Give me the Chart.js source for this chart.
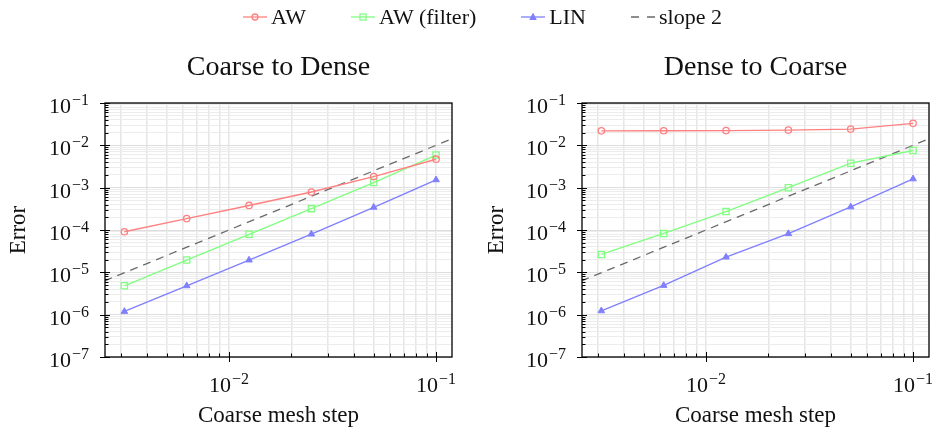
<!DOCTYPE html>
<html>
<head>
<meta charset="utf-8">
<script src="https://cdn.jsdelivr.net/npm/chart.js@4.4.1/dist/chart.umd.min.js"></script>
<style>
  body { margin: 0; background: #fff; }
  #wrap { position: relative; width: 936px; height: 432px; overflow: hidden; }
  canvas { position: absolute; top: 0; }
  #c1 { left: 0; }
  #c2 { left: 468px; }
  #legend { position: absolute; top: 4px; left: 243px; height: 26px; display: flex; align-items: center;
            font-family: "Liberation Serif", serif; font-size: 22px; color: #111; z-index: 2; }
  #legend .item { display: flex; align-items: center; margin-right: 45px; }
  #legend svg { margin-right: 4px; }
</style>
</head>
<body>
<div id="wrap">
  <div id="legend"></div>
  <canvas id="c1" width="468" height="432"></canvas>
  <canvas id="c2" width="468" height="432"></canvas>
</div>
<script>
// Datos
const steps = [0.003125, 0.00625, 0.0125, 0.025, 0.05, 0.1];
const seriesNames = ['AW', 'AW (filter)', 'LIN', 'slope 2'];

// Coarse to Dense
const c2dAW = [9.1e-5, 1.86e-4, 3.8e-4, 7.9e-4, 1.83e-3, 4.7e-3];
const c2dFilter = [4.8e-6, 1.95e-5, 7.9e-5, 3.2e-4, 1.32e-3, 5.9e-3];
const c2dLin = [1.19e-6, 4.8e-6, 1.95e-5, 8.0e-5, 3.44e-4, 1.53e-3];

// Dense to Coarse
const d2cAW = [0.0220, 0.0221, 0.0223, 0.0229, 0.0242, 0.0331];
const d2cFilter = [2.65e-5, 8.3e-5, 2.72e-4, 1.0e-3, 3.79e-3, 7.57e-3];
const d2cLin = [1.23e-6, 4.9e-6, 2.29e-5, 8.2e-5, 3.5e-4, 1.61e-3];

// Recta de referencia (pendiente 2)
const slopeX = [0.0025, 0.12];
const slopeY = [6.25e-6, 1.44e-2];

// Marcas de los ejes
const xMajor = [0.01, 0.1];
const yMajor = [1e-7, 1e-6, 1e-5, 1e-4, 1e-3, 1e-2, 1e-1];
const xRange = [0.00252, 0.1194];
const yRange = [1e-7, 1e-1];

const colors = ['#ff8080', '#80ff80', '#8080ff', '#6a6a6a'];
const serif = '"Liberation Serif", serif';

// Leyenda HTML común
const icons = [
  '<circle cx="12" cy="6" r="3" fill="none" stroke="' + colors[0] + '" stroke-width="1.3"/>',
  '<rect x="9" y="3" width="6" height="6" fill="none" stroke="' + colors[1] + '" stroke-width="1.3"/>',
  '<polygon points="12,2.5 15.2,8.5 8.8,8.5" fill="' + colors[2] + '" stroke="' + colors[2] + '" stroke-width="1"/>',
  ''
];
seriesNames.forEach(function(name, i) {
  const dash = i === 3 ? ' stroke-dasharray="8,8"' : '';
  const item = document.createElement('span');
  item.className = 'item';
  item.innerHTML = '<svg width="24" height="12"><line x1="0" y1="6" x2="24" y2="6" stroke="' + colors[i] +
    '" stroke-width="1.3"' + dash + '/>' + icons[i] + '</svg>' + name;
  document.getElementById('legend').appendChild(item);
});

function pts(xs, ys) {
  return xs.map(function(x, i) { return {x: x, y: ys[i]}; });
}

// Todas las divisiones 1..9 de cada década dentro del rango
function logTicks(scale) {
  const ticks = [];
  for (let e = Math.floor(Math.log10(scale.min)); e <= Math.ceil(Math.log10(scale.max)); e++) {
    for (let k = 1; k <= 9; k++) {
      const v = k * Math.pow(10, e);
      if (v >= scale.min * 0.9999 && v <= scale.max * 1.0001) ticks.push({value: v, major: k === 1});
    }
  }
  scale.ticks = ticks;
}

function drawPow(ctx, v, x, base, align) {
  const exp = Math.round(Math.log10(v));
  ctx.font = '22px ' + serif;
  const w1 = ctx.measureText('10').width;
  ctx.font = '16px ' + serif;
  const txt = '\u2212' + Math.abs(exp);
  const w2 = ctx.measureText(txt).width;
  const total = w1 + 1 + w2;
  const x0 = align === 'right' ? x - total : x - total / 2;
  ctx.fillStyle = '#111';
  ctx.textAlign = 'left';
  ctx.textBaseline = 'alphabetic';
  ctx.font = '22px ' + serif;
  ctx.fillText('10', x0, base);
  ctx.font = '16px ' + serif;
  ctx.fillText(txt, x0 + w1 + 1, base - 8);
}

const frame = {
  id: 'frame',
  afterDraw: function(chart) {
    const ctx = chart.ctx;
    const a = chart.chartArea;
    const xs = chart.scales.x, ys = chart.scales.y;
    ctx.save();
    ctx.strokeStyle = '#000';
    ctx.lineWidth = 1;
    // marcas menores y mayores
    ys.ticks.forEach(function(t) {
      const y = Math.round(ys.getPixelForValue(t.value)) + 0.5;
      ctx.beginPath();
      ctx.moveTo(a.left - (t.major ? 5 : 0), y);
      ctx.lineTo(a.left + (t.major ? 5 : 3.5), y);
      ctx.stroke();
    });
    xs.ticks.forEach(function(t) {
      const x = Math.round(xs.getPixelForValue(t.value)) + 0.5;
      ctx.beginPath();
      ctx.moveTo(x, a.bottom + (t.major ? 5 : 0));
      ctx.lineTo(x, a.bottom - (t.major ? 5 : 3.5));
      ctx.stroke();
    });
    ctx.lineWidth = 1.3;
    ctx.strokeRect(a.left, a.top, a.right - a.left, a.bottom - a.top);
    // etiquetas 10^n
    yMajor.forEach(function(v) {
      drawPow(ctx, v, a.left - 16, ys.getPixelForValue(v) + 10, 'right');
    });
    xMajor.forEach(function(v) {
      drawPow(ctx, v, xs.getPixelForValue(v), a.bottom + 35, 'center');
    });
    ctx.restore();
  }
};

function makeChart(id, title, aw, filt, lin, yWidth, padRight, yTitlePad) {
  const ctx = document.getElementById(id).getContext('2d');
  return new Chart(ctx, {
    type: 'line',
    data: {
      datasets: [
        { label: seriesNames[0], data: pts(steps, aw), borderColor: colors[0], backgroundColor: 'transparent',
          borderWidth: 1.4, pointStyle: 'circle', pointRadius: 3.2, pointBorderWidth: 1.3,
          pointBorderColor: colors[0], pointBackgroundColor: 'transparent' },
        { label: seriesNames[1], data: pts(steps, filt), borderColor: colors[1], backgroundColor: 'transparent',
          borderWidth: 1.4, pointStyle: 'rect', pointRadius: 4.4, pointBorderWidth: 1.3,
          pointBorderColor: colors[1], pointBackgroundColor: 'transparent' },
        { label: seriesNames[2], data: pts(steps, lin), borderColor: colors[2], backgroundColor: colors[2],
          borderWidth: 1.4, pointStyle: 'triangle', pointRadius: 3.8, pointBorderWidth: 1,
          pointBorderColor: colors[2], pointBackgroundColor: colors[2] },
        { label: seriesNames[3], data: pts(slopeX, slopeY), borderColor: colors[3], backgroundColor: 'transparent',
          borderWidth: 1.3, borderDash: [8, 6], pointRadius: 0 }
      ]
    },
    options: {
      responsive: false,
      animation: false,
      layout: { padding: { left: 0, right: padRight, top: 0, bottom: 0 } },
      plugins: {
        legend: { display: false },
        tooltip: { enabled: false },
        title: {
          display: true, text: title, fullSize: false, color: '#111',
          font: { family: serif, size: 28, weight: 'normal', lineHeight: 1.2 },
          padding: { top: 51, bottom: 18.4 }
        }
      },
      scales: {
        x: {
          type: 'logarithmic', min: xRange[0], max: xRange[1],
          afterBuildTicks: logTicks,
          afterFit: function(s) { s.height = 75; },
          ticks: { display: false },
          border: { display: false },
          grid: { drawTicks: false, color: '#e6e6e6', lineWidth: 1.5 },
          title: { display: true, text: 'Coarse mesh step', color: '#111',
                   font: { family: serif, size: 23, lineHeight: 1.2 }, padding: { top: 0, bottom: 2 } }
        },
        y: {
          type: 'logarithmic', min: yRange[0], max: yRange[1],
          afterBuildTicks: logTicks,
          afterFit: function(s) { s.width = yWidth; },
          ticks: { display: false },
          border: { display: false },
          grid: { drawTicks: false, lineWidth: 1,
                  color: function(c) { return c.tick && c.tick.major ? '#dedede' : '#ececec'; } },
          title: { display: true, text: 'Error', color: '#111',
                   font: { family: serif, size: 23, lineHeight: 1.2 }, padding: { top: yTitlePad, bottom: 0 } }
        }
      }
    },
    plugins: [frame]
  });
}

makeChart('c1', 'Coarse to Dense', c2dAW, c2dFilter, c2dLin, 105, 16, 5);
makeChart('c2', 'Dense to Coarse', d2cAW, d2cFilter, d2cLin, 114, 7, 15);
</script>
</body>
</html>
